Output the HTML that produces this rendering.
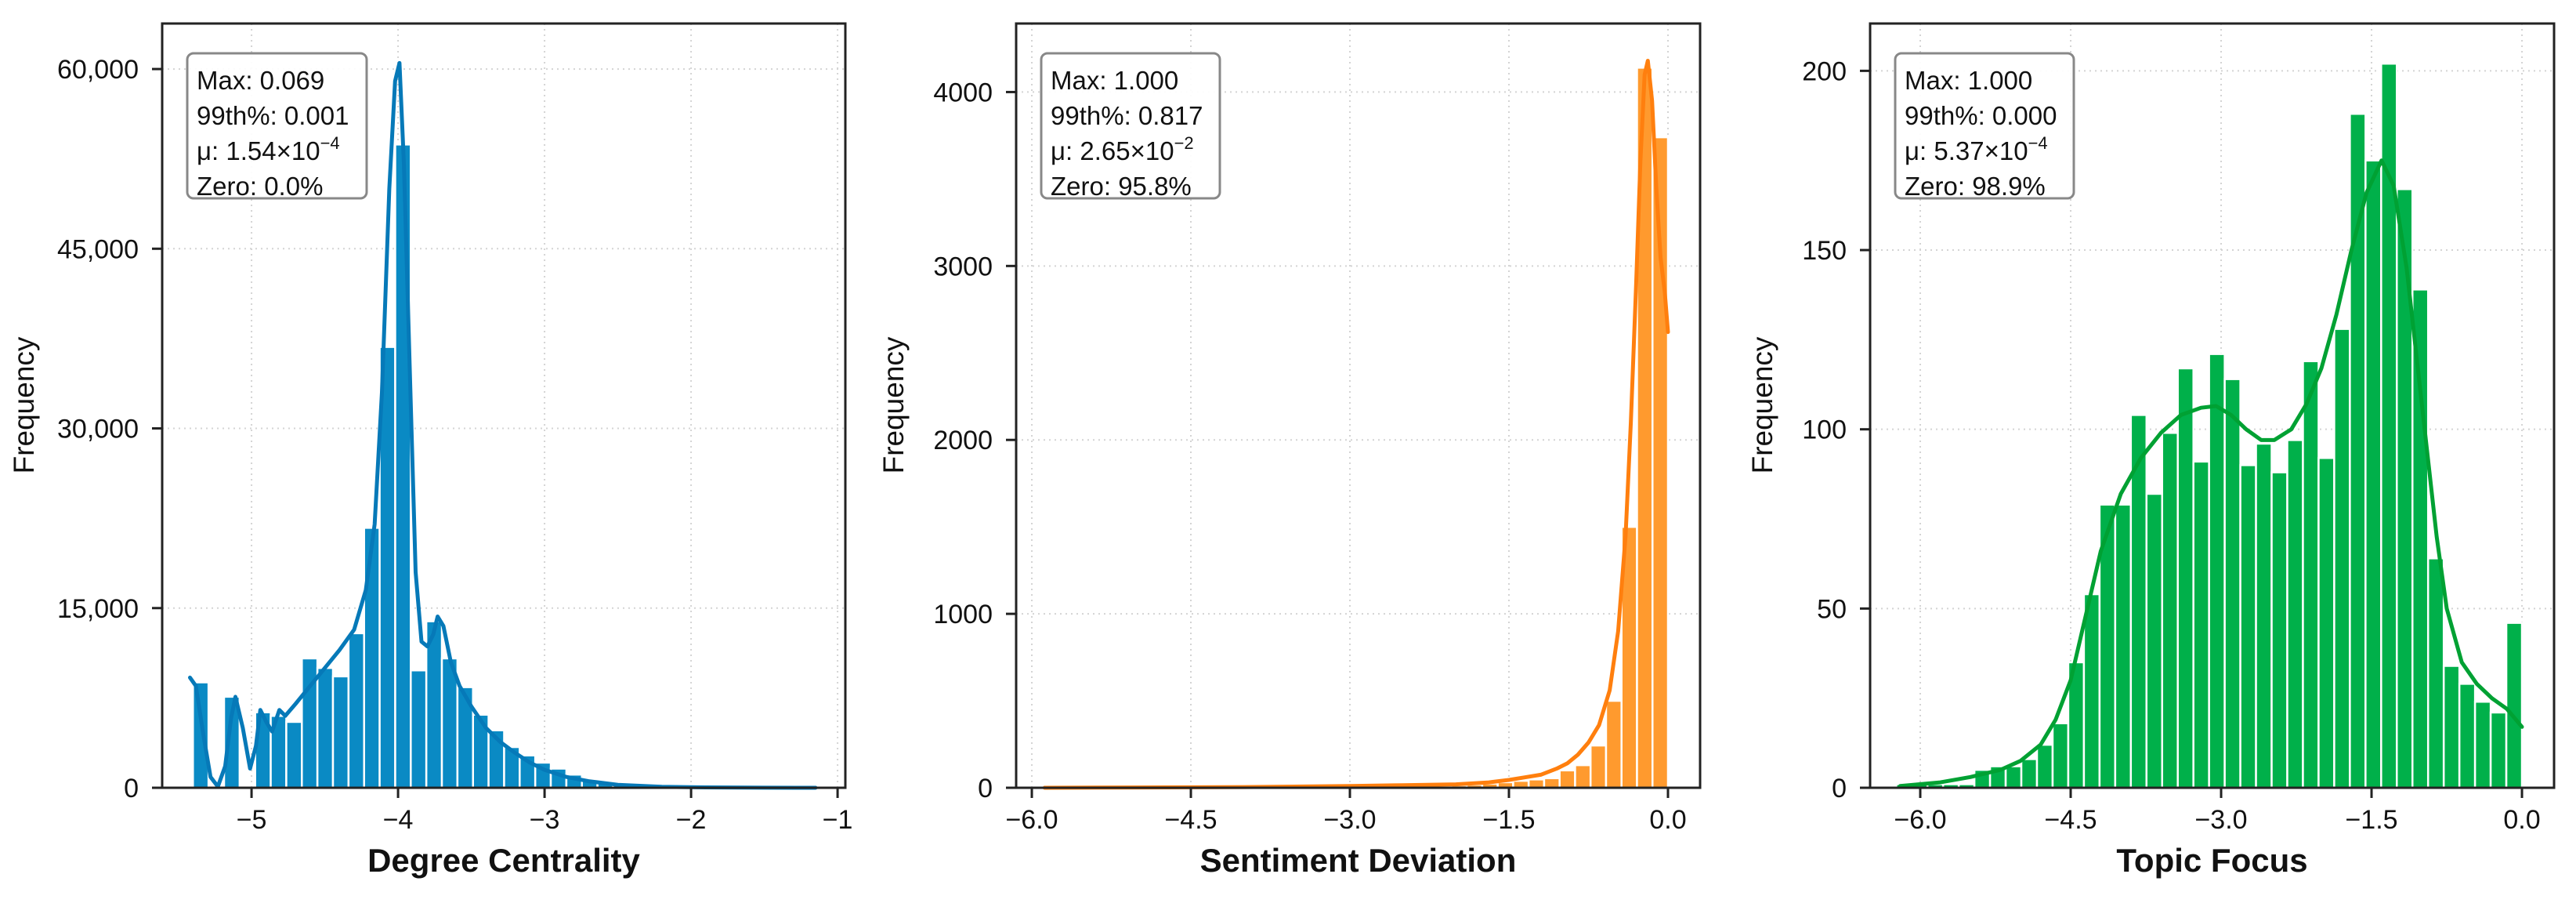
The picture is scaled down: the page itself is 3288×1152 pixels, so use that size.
<!DOCTYPE html>
<html><head><meta charset="utf-8"><style>
html,body{margin:0;padding:0;background:#fff;}
svg{display:block;font-family:"Liberation Sans",Arial,sans-serif;}
</style></head>
<body>
<svg id="fig" width="3288" height="1152" viewBox="0 0 3288 1152" xmlns="http://www.w3.org/2000/svg"></svg>
<script>
// ---------- Panel 1: Degree Centrality ----------
const dcBinStart = -5.40;
const dcBinWidth = 0.1062;
const dcCounts = [8800,0,7600,0,6300,6000,5500,10800,10000,9300,12900,21700,36800,53700,9800,13900,10800,8400,6100,4800,3400,2700,2100,1600,1100,700,450,300,200,120,80,50,30,20,12,8,5,3,2,1];
const dcKdeX = [-5.42,-5.38,-5.33,-5.28,-5.23,-5.18,-5.14,-5.11,-5.06,-5.01,-4.97,-4.94,-4.90,-4.86,-4.81,-4.77,-4.70,-4.60,-4.50,-4.40,-4.30,-4.22,-4.16,-4.11,-4.06,-4.02,-3.99,-3.96,-3.92,-3.88,-3.84,-3.80,-3.76,-3.73,-3.69,-3.64,-3.58,-3.50,-3.40,-3.30,-3.20,-3.10,-3.00,-2.85,-2.70,-2.50,-2.20,-1.90,-1.50,-1.15];
const dcKdeY = [9200,8500,4500,900,100,1800,5800,7600,5000,1600,3500,6500,5500,4700,6500,6000,7000,8500,10000,11500,13200,16500,22000,33000,50000,59000,60500,52000,35000,18000,12200,11800,12800,14300,13500,10500,8500,6800,5000,3800,2900,2100,1500,900,550,250,80,30,8,0];
const dcXTicks = [-5,-4,-3,-2,-1];
const dcXTickLabels = ["\u22125","\u22124","\u22123","\u22122","\u22121"];
const dcYTicks = [0,15000,30000,45000,60000];
const dcYTickLabels = ["0","15,000","30,000","45,000","60,000"];
const dcStats = ["Max: 0.069","99th%: 0.001","1.54\u00d710","\u22124","Zero: 0.0%"];

// ---------- Panel 2: Sentiment Deviation ----------
const sdBinStart = -5.84;
const sdBinWidth = 0.146;
const sdCounts = [1,1,1,1,1,1,1,1,2,2,2,2,2,3,3,3,4,4,5,5,6,7,8,9,10,12,14,18,24,32,40,48,55,100,130,243,500,1500,4140,3740];
const sdKdeX = [-5.88,-5.0,-4.0,-3.0,-2.5,-2.0,-1.7,-1.5,-1.35,-1.2,-1.05,-0.95,-0.85,-0.75,-0.65,-0.55,-0.47,-0.40,-0.35,-0.30,-0.26,-0.22,-0.19,-0.15,-0.11,-0.07,-0.03,0.0];
const sdKdeY = [0,2,4,10,15,20,30,45,60,75,110,140,190,260,360,560,900,1450,2100,2900,3600,4100,4180,3950,3450,3050,2850,2620];
const sdXTicks = [-6,-4.5,-3,-1.5,0];
const sdXTickLabels = ["\u22126.0","\u22124.5","\u22123.0","\u22121.5","0.0"];
const sdYTicks = [0,1000,2000,3000,4000];
const sdYTickLabels = ["0","1000","2000","3000","4000"];
const sdStats = ["Max: 1.000","99th%: 0.817","2.65\u00d710","\u22122","Zero: 95.8%"];

// ---------- Panel 3: Topic Focus ----------
const tfBinStart = -6.24;
const tfBinWidth = 0.156;
const tfCounts = [1,1,1,1,1,5,6,6,8,12,18,35,54,79,79,104,82,99,117,91,121,114,90,96,88,97,119,92,128,188,175,202,167,139,64,34,29,24,21,46];
const tfKdeX = [-6.2,-5.8,-5.5,-5.2,-5.0,-4.8,-4.65,-4.5,-4.35,-4.2,-4.0,-3.8,-3.6,-3.4,-3.2,-3.05,-2.9,-2.75,-2.6,-2.47,-2.3,-2.15,-2.0,-1.85,-1.7,-1.55,-1.40,-1.28,-1.15,-1.05,-0.95,-0.85,-0.75,-0.6,-0.45,-0.3,-0.15,0.0];
const tfKdeY = [0.5,1.5,3,5,7.5,12,19,30,48,66,82,92,99,104,106,106.5,104,100,97,97,100,107,117,132,150,166,175,168,145,120,95,70,50,35,29,25,22,17];
const tfXTicks = [-6,-4.5,-3,-1.5,0];
const tfXTickLabels = ["\u22126.0","\u22124.5","\u22123.0","\u22121.5","0.0"];
const tfYTicks = [0,50,100,150,200];
const tfYTickLabels = ["0","50","100","150","200"];
const tfStats = ["Max: 1.000","99th%: 0.000","5.37\u00d710","\u22124","Zero: 98.9%"];

const NS = "http://www.w3.org/2000/svg";
const svg = document.getElementById('fig');
function mk(tag, attrs, parent){ const e=document.createElementNS(NS,tag); for(const k in attrs) e.setAttribute(k,attrs[k]); (parent||svg).appendChild(e); return e; }

function drawPanel(cfg){
  const g = mk('g',{});
  
  
  const L=cfg.left,R=cfg.right,T=30,B=1005;
  const sx = v => L + (v - cfg.xmin)/(cfg.xmax - cfg.xmin)*(R-L);
  const sy = v => B - v/cfg.ymax*(B-T);
  cfg.xTicks.forEach(t=>{ const l=mk('line',{x1:sx(t),x2:sx(t),y1:T,y2:B,stroke:'#d4d4d4','stroke-width':2,'stroke-dasharray':'2 5'},g);
      });
  cfg.yTicks.forEach(t=>{ const l=mk('line',{x1:L,x2:R,y1:sy(t),y2:sy(t),stroke:'#d4d4d4','stroke-width':2,'stroke-dasharray':'2 5'},g);
      });
  cfg.counts.forEach((c,i)=>{ if(c<=0) return;
    const x0=sx(cfg.binStart+i*cfg.binWidth), x1=sx(cfg.binStart+(i+1)*cfg.binWidth);
    const r=mk('rect',{x:x0,y:sy(c),width:Math.max(0,x1-x0),height:B-sy(c),fill:cfg.barColor,stroke:'#fff','stroke-width':2.5},g);
      });
  let d='';
  cfg.kdeX.forEach((x,i)=>{ d+=(i?'L':'M')+sx(x).toFixed(1)+','+sy(cfg.kdeY[i]).toFixed(1); });
  const p=mk('path',{d:d,fill:'none',stroke:cfg.lineColor,'stroke-width':5,'stroke-linejoin':'round','stroke-linecap':'round'},g);
   
  const f=mk('rect',{x:L,y:T,width:R-L,height:B-T,fill:'none',stroke:'#222','stroke-width':3},g);
   
  cfg.xTicks.forEach((t,i)=>{ mk('line',{x1:sx(t),x2:sx(t),y1:B,y2:B+13,stroke:'#222','stroke-width':3},g);
    const tx=mk('text',{x:sx(t),y:B+52,'font-size':34,'text-anchor':'middle',fill:'#111'},g); tx.textContent=cfg.xTickLabels[i];
      });
  cfg.yTicks.forEach((t,i)=>{ mk('line',{x1:L-13,x2:L,y1:sy(t),y2:sy(t),stroke:'#222','stroke-width':3},g);
    const tx=mk('text',{x:L-30,y:sy(t)+12,'font-size':34,'text-anchor':'end',fill:'#111'},g); tx.textContent=cfg.yTickLabels[i];
      });
  const xl=mk('text',{x:(L+R)/2,y:1112,'font-size':42,'font-weight':'bold','text-anchor':'middle',fill:'#111'},g); xl.textContent=cfg.xlabel;
   
  const yl=mk('text',{x:0,y:0,'font-size':37,'text-anchor':'middle',fill:'#111',transform:`translate(${L-cfg.ylabOff},517) rotate(-90)`},g); yl.textContent='Frequency';
   
  const bx=L+32, by=68;
  const box=mk('rect',{x:bx,y:by,width:cfg.boxW,height:185,rx:8,fill:'#fff','fill-opacity':0.92,stroke:'#888','stroke-width':3},g);
   
  const s=cfg.stats;
  const lines=[s[0],s[1],null,s[4]];
  lines.forEach((ln,i)=>{ const t=mk('text',{x:bx+12,y:by+46+i*45,'font-size':33,fill:'#111'},g);
    if(ln!==null){ t.textContent=ln; }
    else { const a=mk('tspan',{},t); a.textContent='\u03bc: '+s[2]; const b=mk('tspan',{dy:-14,'font-size':22},t); b.textContent=s[3]; }
      });
}

drawPanel({name:'degree-centrality',left:207,right:1079,xmin:-5.610,xmax:-0.947,ymax:63800,
  binStart:dcBinStart,binWidth:dcBinWidth,counts:dcCounts,kdeX:dcKdeX,kdeY:dcKdeY,
  xTicks:dcXTicks,xTickLabels:dcXTickLabels,yTicks:dcYTicks,yTickLabels:dcYTickLabels,
  barColor:'#0a8ac4',lineColor:'#0679b8',xlabel:'Degree Centrality',ylabOff:164,boxW:229,stats:dcStats});
drawPanel({name:'sentiment-deviation',left:1297,right:2170,xmin:-6.148,xmax:0.303,ymax:4394,
  binStart:sdBinStart,binWidth:sdBinWidth,counts:sdCounts,kdeX:sdKdeX,kdeY:sdKdeY,
  xTicks:sdXTicks,xTickLabels:sdXTickLabels,yTicks:sdYTicks,yTickLabels:sdYTickLabels,
  barColor:'#ff9a2e',lineColor:'#ff7f0e',xlabel:'Sentiment Deviation',ylabOff:144,boxW:228,stats:sdStats});
drawPanel({name:'topic-focus',left:2387,right:3260,xmin:-6.5,xmax:0.32,ymax:213.2,
  binStart:tfBinStart,binWidth:tfBinWidth,counts:tfCounts,kdeX:tfKdeX,kdeY:tfKdeY,
  xTicks:tfXTicks,xTickLabels:tfXTickLabels,yTicks:tfYTicks,yTickLabels:tfYTickLabels,
  barColor:'#00b04a',lineColor:'#00a133',xlabel:'Topic Focus',ylabOff:125,boxW:228,stats:tfStats});
</script>
</body></html>
